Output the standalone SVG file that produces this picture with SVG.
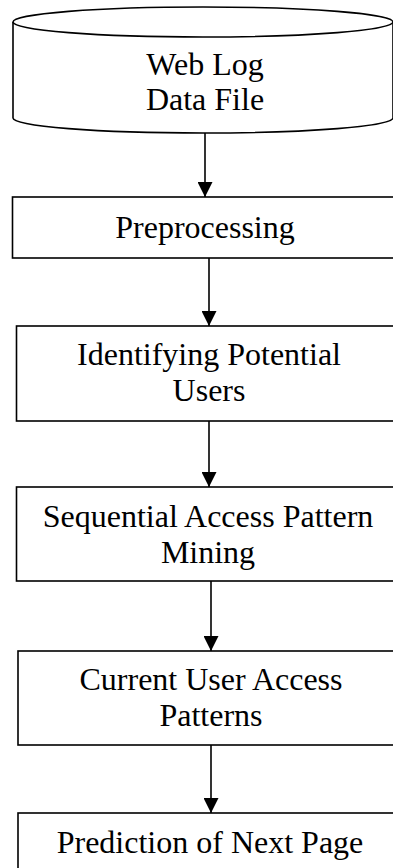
<svg xmlns="http://www.w3.org/2000/svg" width="393" height="868" viewBox="0 0 393 868">
<style>
.box{fill:#fff;stroke:#000;stroke-width:1.6}
.lbl{font-family:"Liberation Serif","Times New Roman",serif;font-size:32px;fill:#000;text-anchor:middle}
.con{stroke:#000;stroke-width:1.6;fill:none}
</style>
<defs>
<marker id="ah" markerUnits="userSpaceOnUse" markerWidth="15" markerHeight="15" refX="15" refY="7.5" orient="auto">
<path d="M0,0 L15,7.5 L0,15 z" fill="#000"/>
</marker>
</defs>
<rect width="393" height="868" fill="#fff"/>
<g id="web-log">
<path class="box" d="M13,22 L13,118 A190,15 0 0 0 393,118 L393,22"/>
<ellipse class="box" cx="203" cy="22" rx="190" ry="15"/>
<text class="lbl" x="205" y="75">Web Log</text>
<text class="lbl" x="205" y="110">Data File</text>
</g>
<g id="preprocessing">
<rect class="box" x="12.5" y="197" width="400" height="61"/>
<text class="lbl" x="205" y="238">Preprocessing</text>
</g>
<g id="identifying">
<rect class="box" x="16.5" y="326" width="400" height="95"/>
<text class="lbl" x="209" y="365">Identifying Potential</text>
<text class="lbl" x="209" y="401">Users</text>
</g>
<g id="sequential">
<rect class="box" x="16.5" y="487" width="400" height="94"/>
<text class="lbl" x="208" y="527">Sequential Access Pattern</text>
<text class="lbl" x="208" y="563">Mining</text>
</g>
<g id="current">
<rect class="box" x="18" y="651" width="400" height="94"/>
<text class="lbl" x="211" y="690">Current User Access</text>
<text class="lbl" x="211" y="726">Patterns</text>
</g>
<g id="prediction">
<rect class="box" x="18" y="813" width="400" height="80"/>
<text class="lbl" x="210" y="853">Prediction of Next Page</text>
</g>
<g id="connectors">
<line class="con" x1="205" y1="133" x2="205" y2="197" marker-end="url(#ah)"/>
<line class="con" x1="209" y1="258" x2="209" y2="326" marker-end="url(#ah)"/>
<line class="con" x1="209" y1="421" x2="209" y2="487" marker-end="url(#ah)"/>
<line class="con" x1="211" y1="581" x2="211" y2="651" marker-end="url(#ah)"/>
<line class="con" x1="211" y1="745" x2="211" y2="813" marker-end="url(#ah)"/>
</g>
</svg>
